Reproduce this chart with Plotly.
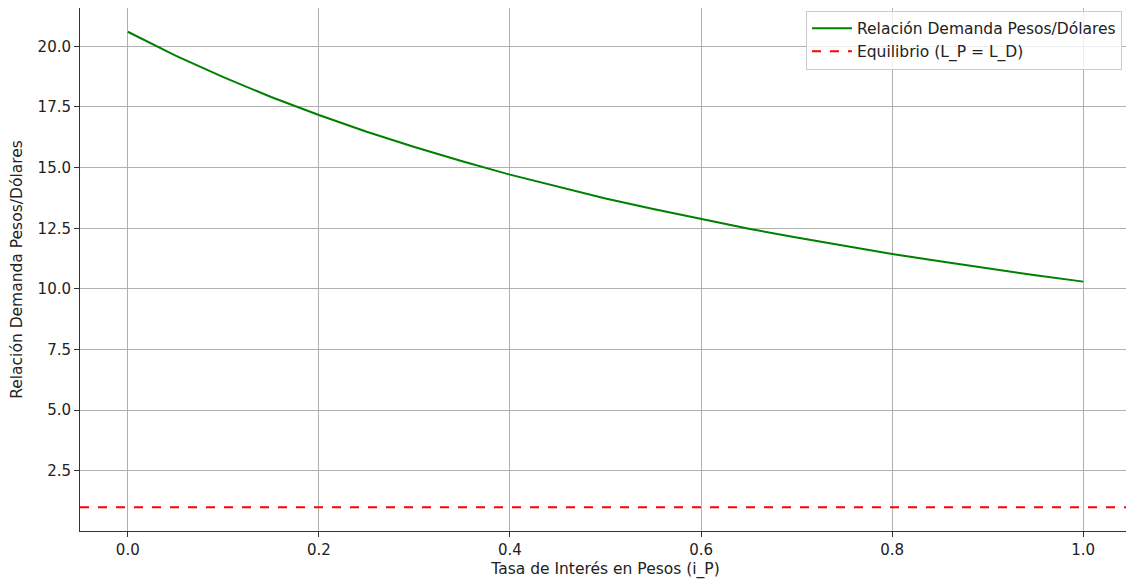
import plotly.graph_objects as go

tasa_interes = [0.0, 0.05, 0.1, 0.15, 0.2, 0.25, 0.3, 0.35, 0.4, 0.45, 0.5,
                0.55, 0.6, 0.65, 0.7, 0.75, 0.8, 0.85, 0.9, 0.95, 1.0]
relacion_demanda = [20.60, 19.62, 18.73, 17.91, 17.17, 16.48, 15.85, 15.26, 14.71, 14.21, 13.73,
                    13.29, 12.88, 12.48, 12.12, 11.77, 11.44, 11.14, 10.84, 10.56, 10.30]
equilibrio = 1.0

x_ticks = [0.0, 0.2, 0.4, 0.6, 0.8, 1.0]
y_ticks = [2.5, 5.0, 7.5, 10.0, 12.5, 15.0, 17.5, 20.0]

font = dict(family="DejaVu Sans", size=15.5, color="#222")
tick_font = dict(family="DejaVu Sans", size=15, color="#222")

fig = go.Figure()
fig.add_trace(go.Scatter(x=tasa_interes, y=relacion_demanda, mode="lines",
                         line=dict(color="green", width=2),
                         name="Relación Demanda Pesos/Dólares"))
fig.add_trace(go.Scatter(x=[None], y=[None], mode="lines",
                         line=dict(color="red", width=2, dash="dash"),
                         name="Equilibrio (L_P = L_D)"))
fig.add_shape(type="line", xref="paper", x0=0, x1=1, yref="y", y0=equilibrio, y1=equilibrio,
              line=dict(color="red", width=2, dash="dash"), layer="above")

lo = min(min(relacion_demanda), equilibrio)
hi = max(relacion_demanda)
pad = (hi - lo) * 0.05
xpad = (max(tasa_interes) - min(tasa_interes)) * 0.05

axis_common = dict(showline=True, linecolor="#333", linewidth=1, mirror=True,
                   showgrid=True, gridcolor="#b0b0b0", gridwidth=0.8,
                   ticks="outside", ticklen=5, tickcolor="#333",
                   tickfont=tick_font, zeroline=False, tickformat=".1f",
                   automargin=False)

# page body has an 8px margin, so the figure is sized/offset to land the axes where the reference has them
fig.update_layout(
    width=1126, height=571,
    margin=dict(l=72, r=3, t=0, b=48),
    paper_bgcolor="white", plot_bgcolor="white",
    font=font,
    showlegend=True,
    legend=dict(x=0.9914, y=0.995, xanchor="right", yanchor="top",
                bgcolor="rgba(255,255,255,0.8)", bordercolor="#cccccc", borderwidth=1,
                font=font, tracegroupgap=0, itemwidth=40),
    xaxis=dict(range=[min(tasa_interes) - xpad, max(tasa_interes) + xpad], tickvals=x_ticks,
               title=dict(text="Tasa de Interés en Pesos (i_P)", font=font, standoff=5),
               **axis_common),
    yaxis=dict(range=[lo - pad, hi + pad], tickvals=y_ticks,
               title=dict(text="Relación Demanda Pesos/Dólares", font=font, standoff=17),
               **axis_common),
)

fig.write_html("out.html")
